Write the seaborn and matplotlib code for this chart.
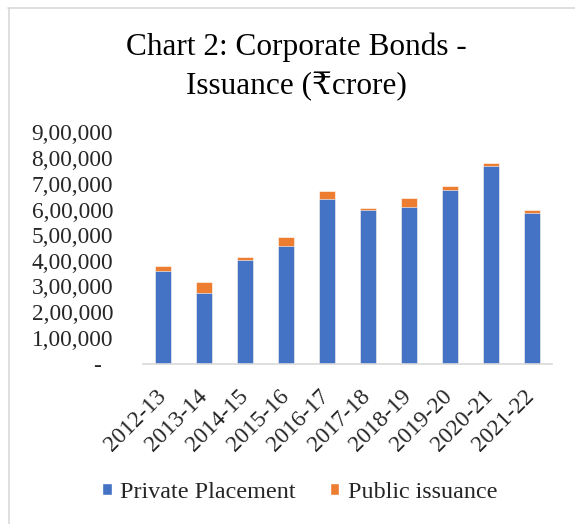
import matplotlib
matplotlib.use('Agg')
import matplotlib.pyplot as plt
import matplotlib.transforms as mtransforms
import seaborn as sns
import pandas as pd
from matplotlib.patches import Patch
from matplotlib.lines import Line2D

years = ['2012-13', '2013-14', '2014-15', '2015-16', '2016-17',
         '2017-18', '2018-19', '2019-20', '2020-21', '2021-22']
private = [361000, 276000, 404000, 458000, 641000, 599000, 610000, 675000, 771000, 588000]
public = [17000, 42000, 9700, 33800, 29500, 5000, 36700, 15000, 10600, 11600]
ytick_vals = [0, 100000, 200000, 300000, 400000, 500000, 600000, 700000, 800000, 900000]
ytick_labels = ['-  ', '1,00,000', '2,00,000', '3,00,000', '4,00,000', '5,00,000',
                '6,00,000', '7,00,000', '8,00,000', '9,00,000']

blue = '#4472C4'
orange = '#ED7D31'
fs = 16.8

df = pd.DataFrame({'year': years, 'private': private, 'public': public})
df['total'] = df['private'] + df['public']

sns.set_theme(style='white')
plt.rcParams['font.family'] = ['Liberation Serif', 'DejaVu Serif', 'DejaVu Sans']

fig = plt.figure(figsize=(5.75, 5.24), dpi=100)
ax = fig.add_axes([143/575, 1 - 363.5/524, (552 - 143)/575, (363.5 - 132.5)/524])

# stacked: total in orange, private drawn over it
sns.barplot(data=df, x='year', y='total', color=orange, width=0.39,
            saturation=1, edgecolor='white', linewidth=0.4, ax=ax)
sns.barplot(data=df, x='year', y='private', color=blue, width=0.39,
            saturation=1, edgecolor='white', linewidth=0.4, ax=ax)

ax.set_ylim(0, 900000)
ax.set_xlim(-0.5, len(years) - 0.5)
ax.set_yticks(ytick_vals)
ax.set_yticklabels(ytick_labels, fontsize=fs)
ax.set_xticks(range(len(years)))
ax.set_xticklabels(years, fontsize=fs, rotation=45, ha='right', rotation_mode='anchor')
ax.tick_params(axis='y', length=0, pad=21.5)
ax.tick_params(axis='x', length=0, pad=16)
shift = mtransforms.ScaledTranslation(-8/100, 0, fig.dpi_scale_trans)
for lab in ax.get_xticklabels():
    lab.set_transform(lab.get_transform() + shift)
ax.set_xlabel('')
ax.set_ylabel('')
for s in ['top', 'right', 'left']:
    ax.spines[s].set_visible(False)
ax.spines['bottom'].set_color('#d9d9d9')
ax.spines['bottom'].set_linewidth(1.2)

fig.text(0.516, 1 - 67/524, 'Chart 2: Corporate Bonds -\nIssuance (₹crore)',
         ha='center', va='center', fontsize=22.5, linespacing=1.42, color='black')

handles = [Patch(facecolor=blue, label='Private Placement'),
           Patch(facecolor=orange, label='Public issuance')]
fig.legend(handles=handles, loc='center', bbox_to_anchor=(0.521, 1 - 492/524),
           ncol=2, frameon=False, fontsize=17.4, handlelength=0.4, handleheight=0.4,
           handletextpad=0.35, columnspacing=1.4)

# chart area border (top and left edges visible)
fig.add_artist(Line2D([8/575, 1], [1 - 7.5/524, 1 - 7.5/524], transform=fig.transFigure,
                      color='#d9d9d9', lw=1.2))
fig.add_artist(Line2D([8.5/575, 8.5/575], [0, 1 - 7.5/524], transform=fig.transFigure,
                      color='#d9d9d9', lw=1.2))

fig.savefig('out.png', dpi=100)
